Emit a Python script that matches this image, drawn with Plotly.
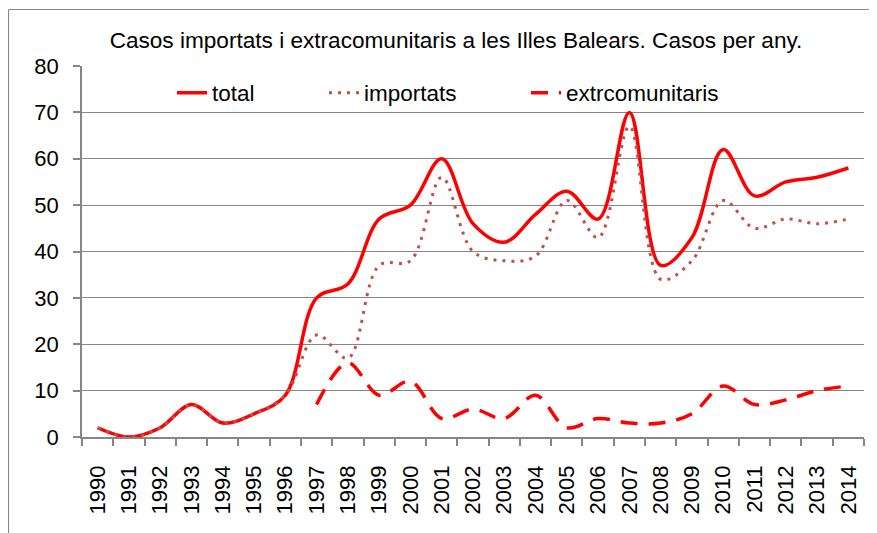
import plotly.graph_objects as go

years = [str(y) for y in range(1990, 2015)]
total = [2, 0, 2, 7, 3, 5, 9, 30, 33, 47, 50, 60, 46, 42, 48, 53, 47, 70, 37, 43, 62, 52, 55, 56, 58]
importats = [2, 0, 2, 7, 3, 5, 9, 22, 17, 37, 38, 56, 40, 38, 39, 51, 43, 67, 34, 38, 51, 45, 47, 46, 47]
extracom = [None, None, None, None, None, None, None, 7, 16, 9, 12, 4, 6, 4, 9, 2, 4, 3, 3, 5, 11, 7, 8, 10, 11]

# page body has an 8px margin; figure coordinates = screen coordinates - 8
OFF = 8
W, H = 877 - OFF, 533 - OFF
L, R, T, B = 82 - OFF, 877 - 864, 66 - OFF, 533 - 437
pw, ph = W - L - R, H - T - B
FONT = "Liberation Sans, Arial, sans-serif"


def px_x(sx):
    return (sx - OFF - L) / pw


def px_y(sy):
    return (H - B - (sy - OFF)) / ph


fig = go.Figure()
fig.add_trace(go.Scatter(x=years, y=total, name="total", mode="lines", legend="legend",
                         line=dict(color="#FF0000", width=3.5, shape="spline", smoothing=1)))
fig.add_trace(go.Scatter(x=years, y=importats, name="importats", mode="lines", legend="legend2",
                         line=dict(color="#C0504D", width=3, shape="spline", smoothing=1, dash="3px,6px")))
fig.add_trace(go.Scatter(x=years, y=extracom, name="extrcomunitaris", mode="lines", legend="legend3",
                         line=dict(color="#FF0000", width=3.5, shape="spline", smoothing=1, dash="17px,11px")))

leg_common = dict(orientation="h", xanchor="left", y=px_y(93), yanchor="middle",
                  bgcolor="rgba(0,0,0,0)", font=dict(size=22.5, family=FONT, color="black"))

fig.update_layout(
    width=W, height=H,
    margin=dict(l=L, r=R, t=T, b=B, autoexpand=False),
    paper_bgcolor="white", plot_bgcolor="white",
    font=dict(family=FONT, color="black"),
    title=dict(text="Casos importats i extracomunitaris a les Illes Balears. Casos per any.",
               x=(456 - OFF) / W, xanchor="center", xref="container",
               y=1 - (40 - OFF) / H, yanchor="middle", yref="container",
               font=dict(size=22.6, color="black", family=FONT)),
    showlegend=True,
    legend=dict(x=px_x(213 - 41), **leg_common),
    legend2=dict(x=px_x(365 - 41), **leg_common),
    legend3=dict(x=px_x(567 - 41), **leg_common),
    xaxis=dict(type="category", range=[-0.5, 24.5], automargin=False, showgrid=False,
               showline=True, linecolor="#868686", linewidth=1.5,
               ticks="outside", tickson="boundaries", ticklen=7, tickcolor="#868686", tickwidth=1.5,
               tickangle=-90, tickfont=dict(size=22, family=FONT), ticklabelstandoff=18),
    yaxis=dict(range=[0, 80], dtick=10, automargin=False, showgrid=True, gridcolor="#868686", gridwidth=1.3,
               showline=True, linecolor="#868686", linewidth=1.5, zeroline=False,
               ticks="outside", ticklen=7, tickcolor="#868686", tickwidth=1.5,
               tickfont=dict(size=22, family=FONT), ticklabelstandoff=10),
    shapes=[
        dict(type="line", xref="paper", yref="paper", x0=px_x(8.5), x1=px_x(877), y0=px_y(9.5), y1=px_y(9.5),
             line=dict(color="#888888", width=1.2)),
        dict(type="line", xref="paper", yref="paper", x0=px_x(8.5), x1=px_x(8.5), y0=px_y(9.5), y1=px_y(533),
             line=dict(color="#888888", width=1.2)),
    ],
)

fig.write_html("out.html")
